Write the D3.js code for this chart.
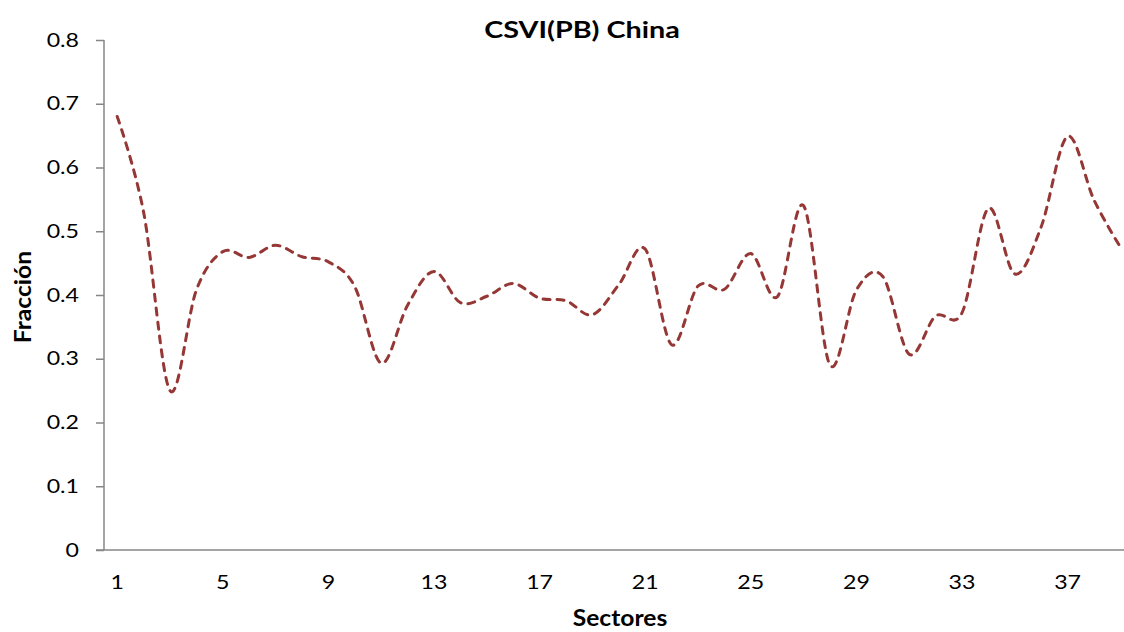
<!DOCTYPE html>
<html>
<head>
<meta charset="utf-8">
<script src="https://cdn.jsdelivr.net/npm/d3@7"></script>
<style>
  html, body { margin: 0; padding: 0; background: #fff; }
  svg { display: block; }
</style>
</head>
<body>
<svg id="chart" width="1124" height="632"></svg>
<script>
const sectors = d3.range(1, 40);
const values = [0.68, 0.53, 0.25, 0.408, 0.468, 0.459, 0.478, 0.46, 0.452, 0.413,
                0.293, 0.384, 0.437, 0.388, 0.398, 0.418, 0.395, 0.391, 0.369, 0.416,
                0.472, 0.322, 0.414, 0.409, 0.465, 0.397, 0.54, 0.29, 0.408, 0.429,
                0.307, 0.367, 0.372, 0.536, 0.433, 0.507, 0.649, 0.549, 0.475];
const yTicks = [0, 0.1, 0.2, 0.3, 0.4, 0.5, 0.6, 0.7, 0.8];
const xTickLabels = [1, 5, 9, 13, 17, 21, 25, 29, 33, 37];
const title = "CSVI(PB) China";
const xTitle = "Sectores";
const yTitle = "Fracción";

(function () {
const svg = d3.select("#chart");
const font = "Lato, 'Open Sans', sans-serif";
const axisColor = "#868686";
const pLeft = 104, pTop = 40, pBottom = 550;
const step = 26.4;
const sx = 1.22;

const x = d3.scaleBand().domain(sectors).range([pLeft, pLeft + step * sectors.length]).padding(0);
const y = d3.scaleLinear().domain([0, 0.8]).range([pBottom, pTop]);
const cx = d => x(d) + x.bandwidth() / 2;

function stretchTicks(sel, k) {
  sel.each(function () {
    const xv = +(this.getAttribute("x") || 0);
    d3.select(this).attr("x", xv / k).attr("transform", `scale(${k},1)`);
  });
}

// Y axis
const yAxis = svg.append("g").attr("transform", `translate(${pLeft},0)`)
  .call(d3.axisLeft(y).tickValues(yTicks).tickSize(8).tickPadding(17).tickFormat(d => String(d)));
yAxis.select(".domain").attr("stroke", axisColor).attr("stroke-width", 1.5).attr("d", `M0,${pTop}V${pBottom}`);
yAxis.selectAll(".tick line").attr("stroke", axisColor).attr("stroke-width", 1.5);
yAxis.selectAll(".tick text").attr("font-family", font).attr("font-size", 19).attr("fill", "#000")
  .call(stretchTicks, sx);

// X axis
const xAxis = svg.append("g").attr("transform", `translate(0,${pBottom})`)
  .call(d3.axisBottom(x).tickValues(xTickLabels).tickSize(0).tickPadding(26));
xAxis.select(".domain").attr("stroke", axisColor).attr("stroke-width", 1.5).attr("d", `M${pLeft - 8},0H1124`);
xAxis.selectAll(".tick text").attr("font-family", font).attr("font-size", 19).attr("fill", "#000")
  .call(stretchTicks, sx);

// Line
const line = d3.line()
  .x((d, i) => cx(sectors[i]))
  .y(d => y(d))
  .curve(d3.curveCatmullRom.alpha(0));
svg.append("path")
  .datum(values)
  .attr("d", line)
  .attr("fill", "none")
  .attr("stroke", "#953735")
  .attr("stroke-width", 3)
  .attr("stroke-dasharray", "7,7")
  .attr("stroke-linecap", "round");

// Titles
svg.append("text").attr("transform", "translate(582,38) scale(1.25,1)").attr("text-anchor", "middle")
  .attr("font-family", font).attr("font-weight", "bold").attr("font-size", 23).text(title);
svg.append("text").attr("transform", "translate(620,626) scale(1.12,1)").attr("text-anchor", "middle")
  .attr("font-family", font).attr("font-weight", "bold").attr("font-size", 22).text(xTitle);
svg.append("text").attr("transform", "translate(31,297) rotate(-90) scale(1.12,1)").attr("text-anchor", "middle")
  .attr("font-family", font).attr("font-weight", "bold").attr("font-size", 22).text(yTitle);
})();
</script>
</body>
</html>
